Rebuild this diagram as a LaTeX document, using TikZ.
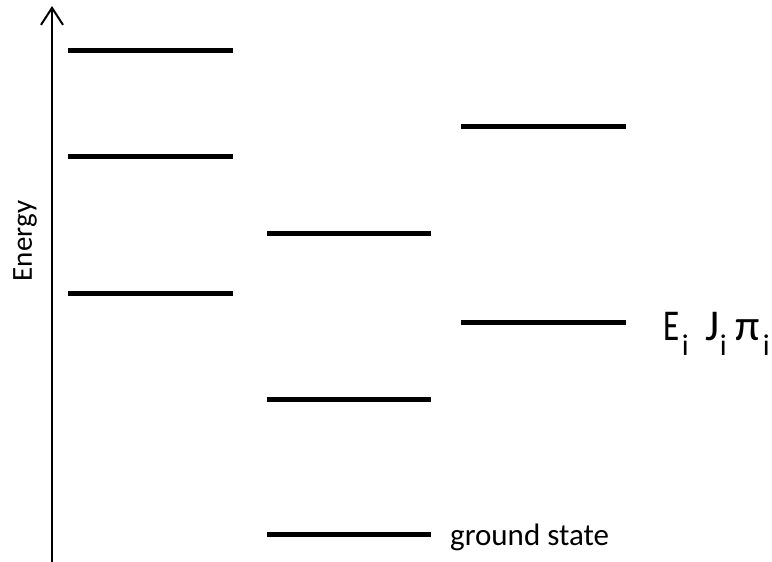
\documentclass[tikz,border=0pt]{standalone}
\usepackage{fontspec}
\setmainfont{Carlito}
\usetikzlibrary{arrows.meta}
\tikzset{
  level/.style={line width=5pt},
  axisline/.style={line width=2pt,-{Straight Barb[length=17pt,width=22pt,line width=2pt]}},
  lbl/.style={inner sep=0pt}
}
\newcommand{\subi}{\makebox[0pt][c]{\raisebox{-15pt}{\fontsize{30}{32}\selectfont i}}}
\newcommand{\glyph}[1]{\makebox[0pt][c]{#1}}
\begin{document}
\begin{tikzpicture}[x=1pt,y=-1pt]
\useasboundingbox (0,0) rectangle (772,562);
\coordinate (ax0) at (52,562);
\coordinate (ax1) at (52,6);
\draw[axisline] (ax0) -- (ax1);
\node[lbl,rotate=90,font=\fontsize{29}{32}\selectfont] (energy) at (25,241) {Energy};
% column 1
\coordinate (a1l) at (68,50);  \coordinate (a1r) at (233,50);
\coordinate (a2l) at (68,156); \coordinate (a2r) at (233,156);
\coordinate (a3l) at (68,293); \coordinate (a3r) at (233,293);
% column 2
\coordinate (b1l) at (267,233); \coordinate (b1r) at (431,233);
\coordinate (b2l) at (267,399); \coordinate (b2r) at (431,399);
\coordinate (b3l) at (267,534); \coordinate (b3r) at (431,534);
% column 3
\coordinate (c1l) at (461,126); \coordinate (c1r) at (626,126);
\coordinate (c2l) at (461,322); \coordinate (c2r) at (626,322);
\foreach \p in {a1,a2,a3,b1,b2,b3,c1,c2}
  \draw[level] (\p l) -- (\p r);
\node[lbl,anchor=base west,font=\fontsize{31}{34}\selectfont] (gs) at (450,545) {ground state};
\node[lbl,anchor=base west,font=\fontsize{44}{48}\selectfont] (eji) at (671.5,340)
  {\glyph{\scalebox{0.75}[1]{E}}\hspace{13.5pt}\subi\hspace{27pt}\glyph{J}\hspace{11pt}\subi\hspace{24pt}\glyph{π}\hspace{19pt}\subi};
\end{tikzpicture}
\end{document}
